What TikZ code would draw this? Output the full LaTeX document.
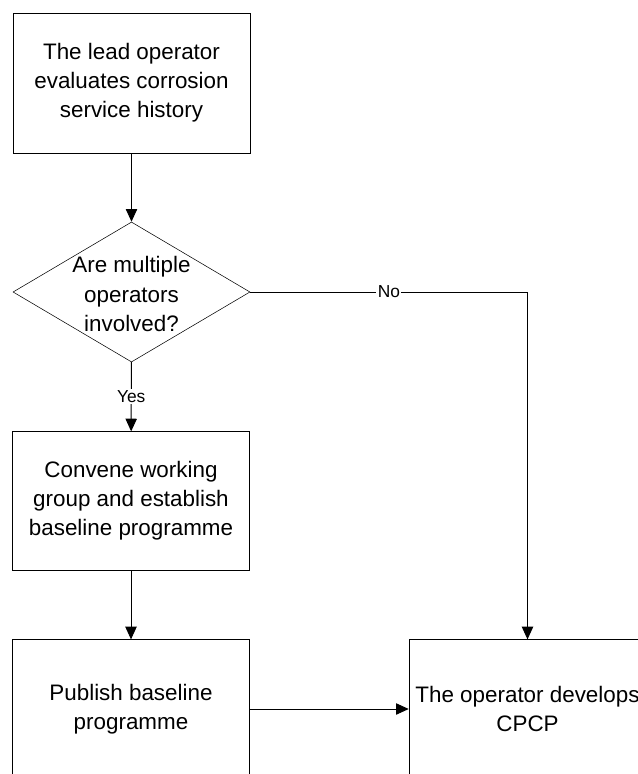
\documentclass[tikz,border=0pt]{standalone}
\usepackage{fontspec}
\setmainfont{Liberation Sans}
\usetikzlibrary{arrows.meta, shapes.geometric, positioning}

\begin{document}
\begin{tikzpicture}[
  x=0.75pt, y=-0.75pt,
  every node/.style={font=\fontsize{16.8}{21.8}\selectfont},
  stepbox/.style={rectangle, draw=black, minimum width=177.75pt, minimum height=104pt, align=center, inner sep=0pt},
  decision/.style={diamond, draw=black, minimum width=177.75pt, minimum height=105pt, inner sep=0pt},
  answer/.style={fill=white, inner sep=1pt, font=\fontsize{13}{15}\selectfont},
  flow/.style={line width=0.75pt},
  >/.tip={Triangle[length=9.5pt,width=8.5pt]}
]
\useasboundingbox (0,0) rectangle (638,774);
\clip (0,0) rectangle (638,774);

\node (lead) at (131.5,83) [stepbox, minimum height=105pt] {The lead operator\\evaluates corrosion\\service history};
\node (ask) at (131.5,292) [decision] {};
\node (askText) at (131.5,294) [align=center] {Are multiple\\operators\\involved?};
\node (group) at (131,501) [stepbox] {Convene working\\group and establish\\baseline programme};
\node (publish) at (131,709) [stepbox] {Publish baseline\\programme};
\node (cpcp) at (527.5,709) [stepbox] {The operator develops\\CPCP};

\draw [->, flow] (lead) -- (ask);
\draw [->, flow] (ask) -- node[answer] {Yes} (group);
\draw [->, flow] (group) -- (publish);
\draw [->, flow] (publish) -- (cpcp);
\draw [->, flow] (ask.east) -- node[answer, pos=0.5] {No} (ask.east -| cpcp) -- (cpcp);

\end{tikzpicture}
\end{document}
